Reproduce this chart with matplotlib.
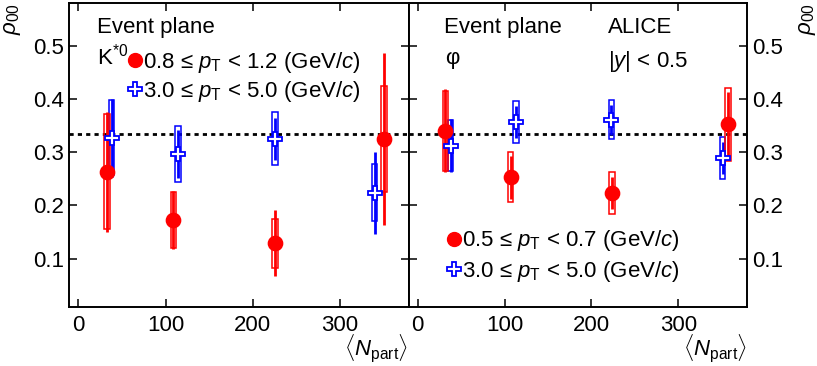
import numpy as np
import matplotlib
matplotlib.use('Agg')
import matplotlib.pyplot as plt
from matplotlib.patches import Rectangle
from matplotlib.lines import Line2D

plt.rcParams['font.family'] = ['Liberation Sans', 'DejaVu Sans']
plt.rcParams['mathtext.fontset'] = 'custom'
plt.rcParams['mathtext.rm'] = 'Liberation Sans'
plt.rcParams['mathtext.it'] = 'Liberation Sans:italic'
plt.rcParams['font.size'] = 16

# K*0, 0.8 <= pT < 1.2
ks_lo_npart = [33, 109, 226, 351]
ks_lo_rho = [0.263, 0.173, 0.129, 0.325]
ks_lo_stat = [0.113, 0.055, 0.062, 0.161]
ks_lo_syst = [0.108, 0.052, 0.046, 0.099]
# K*0, 3.0 <= pT < 5.0
ks_hi_npart = [38, 114, 226, 340]
ks_hi_rho = [0.327, 0.297, 0.325, 0.224]
ks_hi_stat = [0.073, 0.045, 0.040, 0.077]
ks_hi_syst = [0.070, 0.053, 0.050, 0.053]

# phi, 0.5 <= pT < 0.7
phi_lo_npart = [32, 107, 224, 357]
phi_lo_rho = [0.340, 0.253, 0.223, 0.352]
phi_lo_stat = [0.078, 0.040, 0.030, 0.060]
phi_lo_syst = [0.075, 0.047, 0.039, 0.068]
# phi, 3.0 <= pT < 5.0
phi_hi_npart = [38, 113, 223, 351]
phi_hi_rho = [0.312, 0.357, 0.361, 0.289]
phi_hi_stat = [0.050, 0.030, 0.028, 0.030]
phi_hi_syst = [0.048, 0.039, 0.037, 0.040]

box_w = 6.5


def draw_series(ax, x, y, stat, syst, color, marker, mfc):
    for xi, yi, s in zip(x, y, syst):
        ax.add_patch(Rectangle((xi - box_w / 2, yi - s), box_w, 2 * s, fill=False,
                               edgecolor=color, lw=1.1, zorder=3))
    ax.errorbar(x, y, yerr=stat, fmt='none', ecolor=color, elinewidth=2.0, capsize=0, zorder=3)
    ax.plot(x, y, ls='none', marker=marker, ms=10 if marker == 'o' else 9.5,
            mfc=mfc, mec=color, mew=1.3, zorder=4)


fig = plt.figure(figsize=(8.17, 3.66), dpi=100)
ax1 = fig.add_axes([0.0848, 0.162, 0.4152, 0.830])
ax2 = fig.add_axes([0.5, 0.162, 0.4143, 0.830])

for ax in (ax1, ax2):
    ax.set_xlim(-10.5, 379)
    ax.set_ylim(0.01, 0.58)
    ax.axhline(1 / 3, color='black', lw=2.0, ls=(0, (1.5, 1.5)), zorder=2)
    ax.set_xticks([0, 100, 200, 300])
    ax.set_yticks([0.1, 0.2, 0.3, 0.4, 0.5])
    ax.tick_params(direction='in', length=6, width=1.1, top=True, right=True,
                   labelsize=16, pad=4)
    ax.tick_params(axis='x', pad=6)
    for sp in ax.spines.values():
        sp.set_linewidth(1.4)
    ax.set_xlabel(r'$\langle N_{\mathrm{part}}\rangle$', loc='right', fontsize=16, labelpad=-2)

ax1.text(-0.166, 1.0, r'$\rho_{00}$', transform=ax1.transAxes, rotation=90,
         ha='center', va='top', fontsize=16)
ax2.tick_params(labelleft=False, labelright=True)
ax2.text(1.180, 1.0, r'$\rho_{00}$', transform=ax2.transAxes, rotation=90,
         ha='center', va='top', fontsize=16)

draw_series(ax1, ks_hi_npart, ks_hi_rho, ks_hi_stat, ks_hi_syst, 'blue', 'P', 'white')
draw_series(ax1, ks_lo_npart, ks_lo_rho, ks_lo_stat, ks_lo_syst, 'red', 'o', 'red')
draw_series(ax2, phi_hi_npart, phi_hi_rho, phi_hi_stat, phi_hi_syst, 'blue', 'P', 'white')
draw_series(ax2, phi_lo_npart, phi_lo_rho, phi_lo_stat, phi_lo_syst, 'red', 'o', 'red')

ax1.text(0.081, 0.900, 'Event plane', transform=ax1.transAxes, fontsize=16, va='baseline')
ax1.text(0.081, 0.796, r'K$^{*0}$', transform=ax1.transAxes, fontsize=16, va='baseline')
ax2.text(0.106, 0.900, 'Event plane', transform=ax2.transAxes, fontsize=16, va='baseline')
ax2.text(0.108, 0.800, 'φ', transform=ax2.transAxes, fontsize=16, va='baseline')
ax2.text(0.590, 0.900, 'ALICE', transform=ax2.transAxes, fontsize=16, va='baseline')
ax2.text(0.589, 0.790, r'|$y$| < 0.5', transform=ax2.transAxes, fontsize=16, va='baseline')

h_red = Line2D([], [], ls='none', marker='o', ms=10, mfc='red', mec='red')
h_blue = Line2D([], [], ls='none', marker='P', ms=9.5, mfc='white', mec='blue', mew=1.3)

ax1.legend([h_red, h_blue],
           [r'0.8 ≤ $p_{\mathrm{T}}$ < 1.2 (GeV/$c$)', r'3.0 ≤ $p_{\mathrm{T}}$ < 5.0 (GeV/$c$)'],
           loc='upper left', bbox_to_anchor=(0.172, 0.845), frameon=False, fontsize=16,
           handlelength=0.7, handletextpad=0.0, borderpad=0, borderaxespad=0, labelspacing=0.18)
ax2.legend([h_red, h_blue],
           [r'0.5 ≤ $p_{\mathrm{T}}$ < 0.7 (GeV/$c$)', r'3.0 ≤ $p_{\mathrm{T}}$ < 5.0 (GeV/$c$)'],
           loc='upper left', bbox_to_anchor=(0.112, 0.258), frameon=False, fontsize=16,
           handlelength=0.7, handletextpad=0.0, borderpad=0, borderaxespad=0, labelspacing=0.25)

fig.savefig('out.png', dpi=100)
